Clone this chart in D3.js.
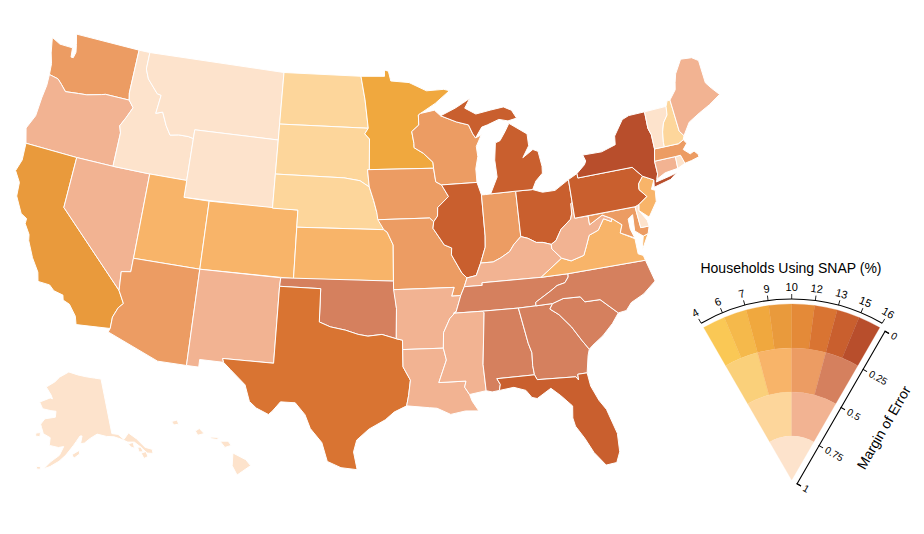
<!DOCTYPE html>
<html>
<head>
<meta charset="utf-8">
<script src="https://cdn.jsdelivr.net/npm/d3@7"></script>
<style>
  html, body { margin: 0; padding: 0; background: #fff; }
  svg { display: block; font-family: "Liberation Sans", Helvetica, Arial, sans-serif; }
</style>
</head>
<body>
<svg id="chart" width="924" height="534"></svg>
<script>
// state values
const stateCodes = ['WA','OR','CA','NV','ID','MT','WY','UT','CO','AZ','NM','ND','SD','NE','KS','OK','TX','MN','IA','MO','AR','LA','WI','IL','IN','OH','KY','TN','MS','AL','GA','FL','SC','NC','VA','WV','MD','DE','PA','NJ','NY','CT','RI','MA','VT','NH','ME','MI','AK','HI']
const snapPct = [11,12,9.5,12,8,8,8,9,9,11,12,7,7,7,9,14,12,8,11,11,12,12,11,14,11,14,12,14,12,14,14,14,14,14,9,12,11,8,14,9,15.5,12,8,11,8,7,12,14,8,8]
const marginErr = [.3,.6,.2,.6,.85,.85,.85,.3,.3,.3,.6,.6,.6,.6,.3,.3,.2,.2,.3,.3,.6,.6,.3,.2,.3,.2,.6,.3,.6,.3,.3,.2,.3,.3,.3,.6,.3,.85,.2,.3,.2,.6,.85,.3,.85,.6,.6,.2,.85,.85]

// legend
const snapTicks = [4,5.5,7,8.5,10,11.5,13,14.5,16]
const moeTicks = [0,.25,.5,.75,1]
const paletteRows = [
  ['#fac855','#f5b94b','#f0a83e','#e99a3c','#e48a38','#d97432','#c95f2e','#b84e2c'],
  ['#fad07a','#f8b469','#ec9c63','#d5805e'],
  ['#fdd69b','#f2b392'],
  ['#fde3cc']
]

// outlines, lon/lat, rough by hand
const WA = [[[-124.7,48.4],[-123.9,48.15],[-122.75,48.15],[-122.65,47.6],[-122.45,47.6],[-122.35,47.95],[-122.5,48.4],[-122.75,49],[-117.03,49],[-117.04,46.4],[-116.92,45.99],[-118.98,46],[-119.3,45.93],[-120.5,45.7],[-121.2,45.65],[-122.3,45.55],[-122.8,45.9],[-123.2,46.15],[-124,46.25],[-124.1,46.9],[-124.4,47.5]]]
const OR = [[[-124,46.25],[-123.2,46.15],[-122.8,45.9],[-122.3,45.55],[-121.2,45.65],[-120.5,45.7],[-119.3,45.93],[-118.98,46],[-116.92,45.99],[-116.46,45.6],[-116.85,44.95],[-117.22,44.4],[-117.03,44],[-117.03,42],[-120,42],[-124.2,42],[-124.55,42.85],[-124.1,43.7],[-124.05,44.8],[-123.95,45.6]]]
const CA = [[[-124.2,42],[-120,42],[-120,39],[-114.63,35],[-114.14,34.3],[-114.45,34],[-114.72,33.4],[-114.72,32.72],[-117.12,32.53],[-117.3,33],[-117.9,33.6],[-118.4,33.75],[-118.5,34.03],[-119.2,34.15],[-119.6,34.42],[-120.47,34.45],[-120.65,34.97],[-121.3,35.7],[-121.9,36.6],[-122,36.95],[-122.5,37.5],[-122.5,37.8],[-123,38],[-123.7,38.9],[-123.8,39.7],[-124.35,40.3],[-124.1,41]]]
const NV = [[[-120,42],[-117.03,42],[-114.04,42],[-114.04,37],[-114.05,36.2],[-114.74,36.1],[-114.63,35],[-120,39]]]
const ID = [[[-117.03,49],[-116.05,49],[-116.05,48],[-115.7,47.45],[-114.7,46.7],[-114.35,46.65],[-114.5,45.55],[-113.95,45.7],[-113.45,44.95],[-113,44.45],[-112.3,44.55],[-111.5,44.55],[-111.05,44.48],[-111.05,42],[-114.04,42],[-117.03,42],[-117.03,44],[-117.22,44.4],[-116.85,44.95],[-116.46,45.6],[-116.92,45.99],[-117.04,46.4]]]
const MT = [[[-116.05,49],[-104.05,49],[-104.05,45],[-111.05,45],[-111.05,44.48],[-111.5,44.55],[-112.3,44.55],[-113,44.45],[-113.45,44.95],[-113.95,45.7],[-114.5,45.55],[-114.35,46.65],[-114.7,46.7],[-115.7,47.45],[-116.05,48]]]
const WY = [[[-111.05,45],[-104.05,45],[-104.05,41],[-111.05,41]]]
const UT = [[[-114.04,42],[-111.05,42],[-111.05,41],[-109.05,41],[-109.05,37],[-114.04,37]]]
const CO = [[[-109.05,41],[-102.05,41],[-102.05,37],[-109.05,37]]]
const AZ = [[[-114.05,37],[-109.05,37],[-109.05,31.33],[-111.07,31.33],[-114.81,32.5],[-114.72,32.72],[-114.72,33.4],[-114.45,34],[-114.14,34.3],[-114.63,35],[-114.74,36.1],[-114.05,36.2]]]
const NM = [[[-109.05,37],[-103,37],[-103.04,36.5],[-103.06,32],[-106.62,32],[-106.53,31.78],[-108.2,31.78],[-108.2,31.33],[-109.05,31.33]]]
const ND = [[[-104.05,49],[-97.23,49],[-96.85,47.6],[-96.56,45.93],[-104.05,45.94]]]
const SD = [[[-104.05,45.94],[-96.56,45.93],[-96.85,45.6],[-96.45,45.3],[-96.45,43.5],[-96.6,43.5],[-96.45,42.49],[-97.2,42.85],[-98.5,43],[-104.05,43]]]
const NE = [[[-104.05,43],[-98.5,43],[-97.2,42.85],[-96.45,42.49],[-96.1,41.7],[-95.85,41],[-95.31,40],[-102.05,40],[-102.05,41],[-104.05,41]]]
const KS = [[[-102.05,40],[-95.31,40],[-95.05,39.85],[-94.6,39.1],[-94.62,37],[-102.05,37]]]
const OK = [[[-103,37],[-94.62,37],[-94.43,35.4],[-94.48,33.64],[-95.5,33.9],[-96.5,33.8],[-97.2,33.9],[-98.1,34.13],[-99.2,34.3],[-100,34.56],[-100,36.5],[-103.04,36.5]]]
const TX = [[[-103.04,36.5],[-100,36.5],[-100,34.56],[-99.2,34.3],[-98.1,34.13],[-97.2,33.9],[-96.5,33.8],[-95.5,33.9],[-94.48,33.64],[-94.04,33.55],[-94.04,33],[-94.04,31.99],[-93.55,31.2],[-93.7,30.3],[-93.85,29.7],[-94.7,29.35],[-95.3,28.9],[-96.4,28.35],[-97.2,27.7],[-97.4,27],[-97.15,25.95],[-98.2,26.05],[-99.1,26.4],[-99.5,27.5],[-100.3,28.3],[-100.7,29.1],[-101.4,29.77],[-102.4,29.77],[-102.9,29.2],[-103.15,28.98],[-104,29.3],[-104.5,29.65],[-104.9,30.6],[-106,31.4],[-106.53,31.78],[-106.62,32],[-103.06,32]]]
const MN = [[[-97.23,49],[-95.15,49],[-95.15,49.38],[-94.8,49.3],[-94.6,48.72],[-93,48.6],[-91.5,48.07],[-90,48.1],[-89.5,48],[-90.8,47.3],[-92.1,46.75],[-92.29,46.66],[-92.29,46.07],[-92.9,45.7],[-92.75,45],[-92.75,44.75],[-92,44.4],[-91.25,43.85],[-91.22,43.5],[-96.45,43.5],[-96.45,45.3],[-96.85,45.6],[-96.56,45.93],[-96.85,47.6]]]
const IA = [[[-96.6,43.5],[-91.22,43.5],[-91.1,42.7],[-90.65,42.5],[-90.15,41.8],[-91.05,41.2],[-91.1,40.7],[-91.42,40.38],[-91.73,40.61],[-95.77,40.58],[-95.85,41],[-96.1,41.7],[-96.45,42.49]]]
const MO = [[[-95.77,40.58],[-91.73,40.61],[-91.42,40.38],[-91.5,40],[-90.7,39],[-90.15,38.8],[-90.2,38.4],[-89.5,37.3],[-89.15,37],[-89.4,36.5],[-89.7,36],[-90.37,36],[-90.15,36.5],[-94.62,36.5],[-94.62,37],[-94.6,39.1],[-95.05,39.85],[-95.31,40]]]
const AR = [[[-94.62,36.5],[-90.15,36.5],[-90.37,36],[-89.7,36],[-90.1,35.1],[-90.6,34.7],[-91.1,33.9],[-91.17,33],[-94.04,33],[-94.04,33.55],[-94.48,33.64],[-94.43,35.4]]]
const LA = [[[-94.04,33],[-91.17,33],[-91,32.3],[-91.6,31],[-89.73,31],[-89.85,30.65],[-89.55,30.2],[-89.4,29.8],[-89,29.2],[-89.9,29.25],[-90.9,29.1],[-91.8,29.5],[-92.3,29.55],[-93.85,29.7],[-93.7,30.3],[-93.55,31.2],[-94.04,31.99]]]
const WI = [[[-92.29,46.66],[-92.1,46.75],[-90.9,46.9],[-90.4,46.55],[-89.1,46.13],[-88.1,45.9],[-87.8,45.35],[-87.6,45.1],[-87.1,45.25],[-87.6,44.6],[-87.55,44],[-87.8,43.3],[-87.8,42.5],[-90.65,42.5],[-91.1,42.7],[-91.22,43.5],[-91.25,43.85],[-92,44.4],[-92.75,44.75],[-92.75,45],[-92.9,45.7],[-92.29,46.07]]]
const IL = [[[-90.65,42.5],[-87.8,42.5],[-87.53,41.75],[-87.53,39.35],[-87.6,38.7],[-87.95,38],[-88.05,37.8],[-88.45,37.1],[-89.15,37],[-89.5,37.3],[-90.2,38.4],[-90.15,38.8],[-90.7,39],[-91.5,40],[-91.42,40.38],[-91.1,40.7],[-91.05,41.2],[-90.15,41.8]]]
const IN = [[[-87.53,41.75],[-87.2,41.75],[-86.8,41.76],[-84.8,41.76],[-84.82,39.1],[-85.4,38.7],[-85.8,38.3],[-86.5,38],[-87.1,37.8],[-88.05,37.8],[-87.95,38],[-87.6,38.7],[-87.53,39.35]]]
const OH = [[[-84.8,41.76],[-83.45,41.73],[-82.7,41.5],[-81.7,41.5],[-80.52,42],[-80.52,40.64],[-80.7,40],[-80.85,39.7],[-81.7,39.2],[-82.2,38.6],[-82.6,38.42],[-83.2,38.6],[-83.7,38.65],[-84.3,38.95],[-84.82,39.1]]]
const KY = [[[-89.4,36.5],[-89.15,37],[-88.45,37.1],[-88.05,37.8],[-87.1,37.8],[-86.5,38],[-85.8,38.3],[-85.4,38.7],[-84.82,39.1],[-84.3,38.95],[-83.7,38.65],[-83.2,38.6],[-82.6,38.42],[-82.6,38.15],[-81.97,37.54],[-83.68,36.6],[-88.07,36.65],[-88.07,36.5]]]
const TN = [[[-89.4,36.5],[-88.07,36.5],[-88.07,36.65],[-83.68,36.6],[-81.68,36.59],[-81.7,36.4],[-82,36.1],[-82.6,36],[-83.1,35.75],[-84.3,35.2],[-84.32,34.99],[-85.6,34.98],[-88.2,35],[-90.3,35],[-90.1,35.1],[-89.7,36]]]
const MS = [[[-90.3,35],[-88.2,35],[-88.1,34.9],[-88.47,31.9],[-88.4,30.35],[-89.55,30.2],[-89.85,30.65],[-89.73,31],[-91.6,31],[-91,32.3],[-91.17,33],[-91.1,33.9],[-90.6,34.7],[-90.1,35.1]]]
const AL = [[[-88.2,35],[-85.6,34.98],[-85.18,32.87],[-85,32.3],[-85.05,31.55],[-85,31],[-87.6,31],[-87.4,30.65],[-87.5,30.3],[-88,30.25],[-88.4,30.35],[-88.47,31.9],[-88.1,34.9]]]
const GA = [[[-85.6,34.98],[-84.32,34.99],[-83.1,35],[-83.35,34.7],[-82.75,34.3],[-82,33.5],[-81.4,32.6],[-81,32.05],[-81.15,31.7],[-81.4,30.7],[-82.05,30.7],[-82.05,30.36],[-82.2,30.57],[-84.85,30.7],[-85,31],[-85.05,31.55],[-85,32.3],[-85.18,32.87]]]
const FL = [[[-87.6,31],[-85,31],[-84.85,30.7],[-82.2,30.57],[-82.05,30.36],[-82.05,30.7],[-81.4,30.7],[-81.3,29.9],[-80.9,29],[-80.5,28.4],[-80.05,26.9],[-80.1,25.8],[-80.4,25.2],[-81.1,25.15],[-81.75,26],[-82.2,26.9],[-82.7,27.7],[-82.8,28.2],[-82.7,28.9],[-83.4,29.6],[-84,30.1],[-85,29.6],[-85.35,29.7],[-85.7,30.15],[-86.5,30.4],[-87.5,30.3],[-87.4,30.65]]]
const SC = [[[-83.1,35],[-82.3,35.2],[-81.05,35.15],[-80.78,34.82],[-79.67,34.8],[-78.55,33.85],[-79.1,33.3],[-79.9,32.7],[-80.7,32.25],[-81,32.05],[-81.4,32.6],[-82,33.5],[-82.75,34.3],[-83.35,34.7]]]
const NC = [[[-84.32,34.99],[-84.3,35.2],[-83.1,35.75],[-82.6,36],[-82,36.1],[-81.7,36.4],[-81.68,36.59],[-75.87,36.55],[-75.5,35.25],[-76.5,34.65],[-77.5,34.3],[-77.95,33.9],[-78.55,33.85],[-79.67,34.8],[-80.78,34.82],[-81.05,35.15],[-82.3,35.2],[-83.1,35]]]
const VA = [[[-83.68,36.6],[-81.97,37.54],[-81.3,37.3],[-80.3,37.5],[-80,38],[-79.65,38.6],[-78.9,38.8],[-78.35,39.4],[-77.8,39.15],[-77.72,39.32],[-77.05,38.85],[-77.3,38.4],[-76.3,37.9],[-76.3,37],[-75.95,36.85],[-75.87,36.55],[-81.68,36.59]],[[-75.95,37.15],[-75.65,37.95],[-75.25,38.03]]]
const WV = [[[-82.6,38.42],[-82.2,38.6],[-81.7,39.2],[-80.85,39.7],[-80.7,40],[-80.65,40.6],[-80.52,40.64],[-80.52,39.72],[-79.48,39.72],[-79.48,39.2],[-78.4,39.62],[-77.72,39.32],[-77.8,39.15],[-78.35,39.4],[-78.9,38.8],[-79.65,38.6],[-80,38],[-80.3,37.5],[-81.3,37.3],[-81.97,37.54],[-82.6,38.15]]]
const MD = [[[-79.48,39.72],[-75.79,39.72],[-75.7,38.46],[-75.05,38.45],[-75.25,38.03],[-75.65,37.95],[-76.2,38.35],[-76.1,39.3],[-76.5,39.1],[-76.5,38.5],[-76.3,37.95],[-77.3,38.4],[-77.05,38.85],[-77.72,39.32],[-78.4,39.62],[-79.48,39.2]]]
const DE = [[[-75.79,39.72],[-75.45,39.8],[-75.55,39.45],[-75.1,38.8],[-75.05,38.45],[-75.7,38.46]]]
const PA = [[[-80.52,42],[-79.76,42.27],[-79.76,42],[-75.35,42],[-74.7,41.36],[-75.13,40.98],[-75.2,40.65],[-74.72,40.15],[-75.45,39.8],[-75.79,39.72],[-80.52,39.72]]]
const NJ = [[[-74.7,41.36],[-73.9,41],[-74.25,40.5],[-73.98,40.4],[-74.1,39.75],[-74.9,38.95],[-75.55,39.45],[-75.45,39.8],[-74.72,40.15],[-75.2,40.65],[-75.13,40.98]]]
const NY = [[[-79.76,42.27],[-79.05,42.7],[-78.9,42.9],[-79.05,43.27],[-77.5,43.25],[-76.3,43.5],[-76.2,44],[-75.3,44.85],[-74.7,45],[-73.35,45],[-73.4,44],[-73.25,43.6],[-73.27,42.75],[-73.5,42.05],[-73.5,41.3],[-73.65,41],[-73.75,40.85],[-72.6,41],[-72,41.1],[-72.6,40.8],[-74,40.58],[-73.9,41],[-74.7,41.36],[-75.35,42],[-79.76,42]]]
const CT = [[[-73.5,42.05],[-71.8,42.02],[-71.85,41.32],[-72.9,41.25],[-73.65,41],[-73.5,41.3]]]
const RI = [[[-71.8,42.02],[-71.38,42.02],[-71.2,41.5],[-71.85,41.32]]]
const MA = [[[-73.5,42.05],[-73.27,42.75],[-72.46,42.73],[-71.3,42.7],[-70.85,42.85],[-70.65,42.6],[-71.05,42.3],[-70.6,41.95],[-70.25,42.05],[-70,41.8],[-70,41.65],[-70.65,41.55],[-71.2,41.5],[-71.38,42.02],[-71.8,42.02]]]
const VT = [[[-73.35,45],[-71.5,45],[-71.6,44.5],[-72.05,44.1],[-72.3,43.6],[-72.45,43],[-72.46,42.73],[-73.27,42.75],[-73.25,43.6],[-73.4,44]]]
const NH = [[[-71.5,45],[-71.3,45.3],[-71.05,45.3],[-70.98,43.4],[-70.7,43.07],[-70.85,42.85],[-71.3,42.7],[-72.46,42.73],[-72.45,43],[-72.3,43.6],[-72.05,44.1],[-71.6,44.5]]]
const ME = [[[-71.05,45.3],[-70.4,45.8],[-70.25,46.2],[-70,46.7],[-69.25,47.45],[-68.3,47.35],[-67.8,47.07],[-67.8,45.7],[-67.45,45.3],[-66.95,44.8],[-68,44.4],[-69,44.1],[-70,43.75],[-70.7,43.07],[-70.98,43.4]]]
const MI = [
  [[-86.8,41.76],[-84.8,41.76],[-83.45,41.73],[-83.1,42.2],[-82.5,42.6],[-82.45,43],[-82.6,43.9],[-83,44.05],[-83.9,43.65],[-83.3,44.3],[-83.3,45],[-84.7,45.75],[-85.1,45.3],[-85.6,44.8],[-86,44.7],[-86.2,43.7],[-86.15,42.7]],
  [[-90.4,46.55],[-89.1,46.95],[-88.45,47.2],[-87.8,47.45],[-88.3,46.9],[-87.4,46.5],[-86.1,46.65],[-85,46.75],[-84.35,46.5],[-84,46],[-84.75,45.9],[-85.5,46.05],[-86.5,45.8],[-87,45.7],[-87.6,45.1],[-87.8,45.35],[-88.1,45.9],[-89.1,46.13]]
]
const AK = [
  [[-141,69.65],[-141,60.3],[-139,59.95],[-137.5,58.9],[-135.5,59.75],[-133.5,58.4],[-131.8,56.6],[-130,55.9],[-130.2,55.2],[-131.8,55.6],[-133.2,57],[-134.5,58],[-136.5,58.3],[-138.5,59.1],[-140.5,59.7],[-143,60],[-146,60.6],[-148.5,60],[-150.5,59.3],[-151.8,59.2],[-151.2,60.5],[-151.9,60.5],[-153.2,59.6],[-154.2,58.9],[-156.5,57.3],[-158.5,56.2],[-161,55.2],[-162.8,54.7],[-161,56],[-158.5,57.2],[-157.3,58.7],[-159,58.5],[-162,58.7],[-162,60],[-164.5,60.5],[-165.5,61.5],[-166,62],[-164.8,63],[-161,63.5],[-161,64.5],[-163,64.5],[-166.3,64.6],[-168,65.6],[-164,66.6],[-163,66.5],[-163.8,67.1],[-166.5,68.3],[-163,69.4],[-161,70.3],[-156.6,71.3],[-152,70.8],[-148,70.4],[-144,70]],
  [[-154.6,57.4],[-152.3,58.1],[-152.2,57.5],[-154,56.8]],
  [[-136.5,58],[-134.9,58],[-135,57],[-136,57.4]],
  [[-134,57],[-133,56.9],[-132.8,56],[-134,56.2]],
  [[-133.5,55.9],[-132,55.9],[-131.9,55],[-133.2,54.9]],
  [[-167,60.4],[-165.5,60.6],[-165.5,59.9],[-167,59.9]],
  [[-165,54.9],[-163.8,55],[-163.8,54.5],[-164.8,54.5]]
]
const HI = [
  [[-155.9,20.25],[-155.1,19.85],[-154.8,19.5],[-155.65,18.95],[-155.95,19.5]],
  [[-156.7,20.95],[-156.2,20.95],[-156,20.7],[-156.4,20.58]],
  [[-157.3,21.2],[-156.75,21.17],[-156.9,21.05],[-157.25,21.1]],
  [[-158.25,21.55],[-158,21.7],[-157.7,21.4],[-158.1,21.3]],
  [[-159.75,22.1],[-159.4,22.2],[-159.3,21.95],[-159.6,21.9]]
]
const outlines = {WA,OR,CA,NV,ID,MT,WY,UT,CO,AZ,NM,ND,SD,NE,KS,OK,TX,MN,IA,MO,AR,LA,WI,IL,IN,OH,KY,TN,MS,AL,GA,FL,SC,NC,VA,WV,MD,DE,PA,NJ,NY,CT,RI,MA,VT,NH,ME,MI,AK,HI}

const svg = d3.select('#chart')

// value-suppressing colour: wider error, fewer bins
const rowScale = d3.scaleQuantize().domain([0, 1]).range(d3.range(paletteRows.length))
function snapColor(snap, moe) {
  const row = paletteRows[rowScale(moe)]
  const col = d3.scaleQuantize().domain([4, 16]).range(d3.range(row.length))
  return row[col(snap)]
}

function toFeature(code, i) {
  const rings = outlines[code].map(r => {
    const ring = r.concat([r[0]])
    // d3 wants small polygons wound the spherical way
    return d3.geoArea({type: 'Polygon', coordinates: [ring]}) > 2 * Math.PI ? ring.reverse() : ring
  })
  return {
    type: 'Feature',
    properties: {code, snap: snapPct[i], moe: marginErr[i]},
    geometry: {type: 'MultiPolygon', coordinates: rings.map(r => [r])}
  }
}

const projection = d3.geoAlbersUsa().scale(975).translate([367, 252])
const path = d3.geoPath(projection)

svg.append('g').selectAll('path')
  .data(stateCodes.map(toFeature))
  .join('path')
    .attr('d', path)
    .attr('fill', d => snapColor(d.properties.snap, d.properties.moe))
    .attr('stroke', '#fff')
    .attr('stroke-width', 1)
    .attr('stroke-linejoin', 'round')

// legend wedge
const apex = [791.7, 480]
const radius = d3.scaleLinear().domain([0, 1]).range([176, 0])
const angle = d3.scaleLinear().domain([4, 16]).range([-Math.PI / 6, Math.PI / 6])
const legend = svg.append('g').attr('transform', `translate(${apex})`)

const cells = paletteRows.flatMap((row, r) => row.map((color, c) => ({
  color,
  inner: radius((r + 1) / paletteRows.length),
  outer: radius(r / paletteRows.length),
  start: angle(4 + 12 * c / row.length),
  end: angle(4 + 12 * (c + 1) / row.length)
})))

legend.selectAll('path.cell')
  .data(cells)
  .join('path')
    .attr('class', 'cell')
    .attr('d', d => d3.arc()({innerRadius: d.inner, outerRadius: d.outer, startAngle: d.start, endAngle: d.end}))
    .attr('fill', d => d.color)
    .attr('stroke', d => d.color)
    .attr('stroke-width', 0.3)

// arc axis on top
const arcR = 181
legend.append('path')
  .attr('d', d3.arc()({innerRadius: arcR, outerRadius: arcR, startAngle: angle(4), endAngle: angle(16)}))
  .attr('fill', 'none')
  .attr('stroke', '#000')
  .attr('stroke-width', 1.1)

const snapTick = legend.selectAll('g.snap-tick')
  .data(snapTicks)
  .join('g')
    .attr('class', 'snap-tick')
    .attr('transform', d => `rotate(${angle(d) * 180 / Math.PI})`)
snapTick.append('line')
  .attr('y1', -arcR).attr('y2', -arcR - 5)
  .attr('stroke', '#000').attr('stroke-width', 0.8)
snapTick.append('text')
  .attr('y', -arcR - 8)
  .attr('text-anchor', 'middle')
  .attr('font-size', 11)
  .text(d3.format('.0f'))

// straight axis on the right edge
const moeScale = d3.scaleLinear().domain([0, 1]).range([0, 176])
const moeAxis = svg.append('g')
  .attr('transform', 'translate(884.9,330.6) rotate(30)')
  .call(d3.axisRight(moeScale).tickValues(moeTicks).tickSize(5).tickFormat(d3.format('~g')))
moeAxis.selectAll('text').attr('font-size', 10).attr('font-family', 'inherit').attr('fill', '#000')
moeAxis.select('.domain').attr('stroke-width', 1.1)

svg.append('text')
  .attr('transform', 'translate(888,430) rotate(-60)')
  .attr('text-anchor', 'middle')
  .attr('font-size', 14)
  .text('Margin of Error')

svg.append('text')
  .attr('x', 791).attr('y', 273)
  .attr('text-anchor', 'middle')
  .attr('font-size', 14)
  .text('Households Using SNAP (%)')
</script>
</body>
</html>
